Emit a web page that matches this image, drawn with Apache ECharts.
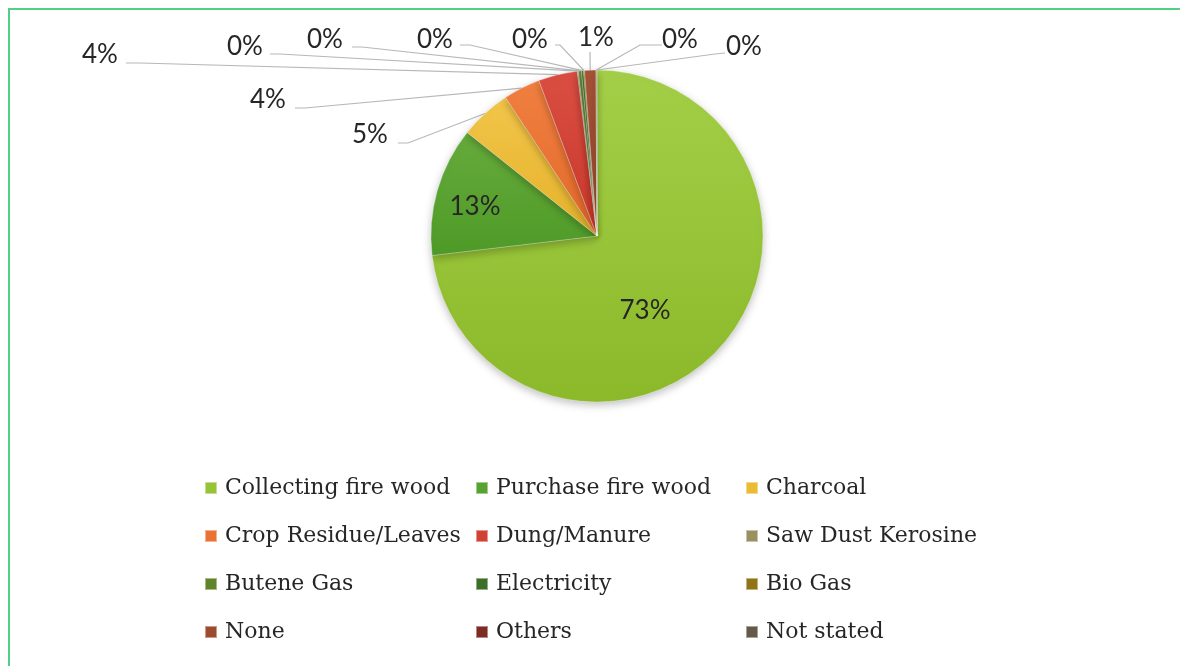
<!DOCTYPE html>
<html>
<head>
<meta charset="utf-8">
<script src="https://cdn.jsdelivr.net/npm/echarts@6/dist/echarts.min.js"></script>
<style>
html,body{margin:0;padding:0;background:#fff;}
#chart{width:1180px;height:666px;}
</style>
</head>
<body>
<div id="chart"></div>
<script>
// ---- data ----
const categories = ['Collecting fire wood','Purchase fire wood','Charcoal','Crop Residue/Leaves','Dung/Manure','Saw Dust Kerosine','Butene Gas','Electricity','Bio Gas','None','Others','Not stated'];
const shares = [73.2, 12.6, 5.0, 3.6, 3.8, 0.1, 0.3, 0.2, 0.1, 1.1, 0.05, 0.05];

// ---- styles / layout (not data) ----
const gradColors = [
  ['#a2cf47','#8cb92a'],['#66ab3c','#4e9a27'],['#f2c54a','#e4b22a'],['#f08040','#e4682a'],
  ['#da4e42','#c8382a'],['#a49a6a','#8e8452'],['#6a8f36','#557a22'],['#477a30','#356420'],
  ['#9a7d22','#85690e'],['#a65438','#91432a'],['#8a3229','#72241d'],['#6a6450','#57513e']
];
const legendColors = ['#97c437','#58a231','#ebbb33','#ea7233','#d14234','#999063','#5f842b','#3d6e27','#8f7317','#9d4b30','#7e2b23','#605a46'];
const labelPos = [[645,311],[475,207],[370,135],[268,100],[100,55],[245,47],[325,40],[435,40],[530,40],[596,38],[680,40],[744,47]];
const lineElbow = [null,null,[[398,143],[408,143]],[[295,108],[305,108]],[[126,63],[140,63]],[[270,54],[280,54]],[[352,47],[362,47]],[[460,45],[470,45]],[[555,45],[560,45]],[[590,52],[590,54]],[[662,45],[640,45]],[[725,53],[715,54]]];
const insideIdx = [0,1];

const chart = echarts.init(document.getElementById('chart'), null, {renderer:'canvas'});

const seriesData = categories.map((name, i) => ({
  name: name,
  value: shares[i],
  itemStyle: {
    color: new echarts.graphic.LinearGradient(0,0,0,1,[{offset:0,color:gradColors[i][0]},{offset:1,color:gradColors[i][1]}])
  },
  label: insideIdx.includes(i) ? {position:'inside'} : {position:'outside'},
  labelLine: {show: !insideIdx.includes(i)}
}));

function legendFor(col, left) {
  return {
    orient: 'vertical',
    left: left,
    top: 476,
    padding: 0,
    itemWidth: 12,
    itemHeight: 12,
    itemGap: 24,
    icon: 'rect',
    selectedMode: false,
    textStyle: {fontFamily: 'DejaVu Serif', fontSize: 22, color: '#262626', lineHeight: 24, padding: [0,0,0,3]},
    data: categories.filter((c, i) => i % 3 === col).map((c) => ({
      name: c,
      itemStyle: {color: legendColors[categories.indexOf(c)]}
    }))
  };
}

const option = {
  backgroundColor: '#ffffff',
  animation: false,
  graphic: [{
    type: 'rect',
    shape: {x: 9, y: 9, width: 1300, height: 800},
    style: {fill: 'none', stroke: '#52cf84', lineWidth: 2},
    silent: true
  }],
  legend: [legendFor(0, 204), legendFor(1, 475), legendFor(2, 745)],
  series: [{
    type: 'pie',
    center: [597, 236],
    radius: 166,
    startAngle: 90,
    clockwise: true,
    avoidLabelOverlap: false,
    data: seriesData,
    itemStyle: {
      borderColor: 'rgba(255,255,255,0.45)',
      borderWidth: 0.6,
      shadowBlur: 8,
      shadowOffsetY: 3,
      shadowColor: 'rgba(0,0,0,0.25)'
    },
    label: {
      show: true,
      fontFamily: 'Lato',
      fontSize: 26,
      color: '#262626',
      formatter: (p) => Math.round(p.percent) + '%'
    },
    labelLine: {
      show: true,
      length: 10,
      length2: 10,
      lineStyle: {color: '#b8b8b8', width: 1.2}
    },
    labelLayout: function (params) {
      const i = params.dataIndex;
      const res = {x: labelPos[i][0], y: labelPos[i][1], align: 'center', verticalAlign: 'middle'};
      if (lineElbow[i] && params.labelLinePoints) {
        res.labelLinePoints = [params.labelLinePoints[0], lineElbow[i][1], lineElbow[i][0]];
      }
      return res;
    }
  }]
};
chart.setOption(option);
</script>
</body>
</html>
